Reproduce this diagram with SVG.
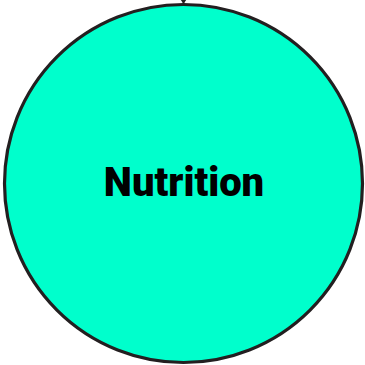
<svg xmlns="http://www.w3.org/2000/svg" width="365" height="365" viewBox="0 0 365 365">
<style>
.node{fill:#00ffcc;stroke:#231f20;stroke-width:3.2}
.lbl{font-family:Roboto,"Liberation Sans",sans-serif;font-weight:900;font-size:40px;fill:#000;text-anchor:middle}
.conn{fill:none;stroke:#231f20;stroke-width:1.5}
</style>
<defs>
<marker id="ah" markerWidth="8" markerHeight="8" refX="6" refY="4" orient="auto" markerUnits="userSpaceOnUse">
<path d="M0,0 L6,4 L0,8 Z" fill="#231f20"/>
</marker>
</defs>
<g id="connectors">
<path class="conn" d="M183.5,-10 L183.5,4" marker-end="url(#ah)"/>
</g>
<g id="nutrition">
<circle class="node" cx="183.5" cy="183.5" r="179"/>
<text class="lbl" x="184" y="196">Nutrition</text>
</g>
</svg>
